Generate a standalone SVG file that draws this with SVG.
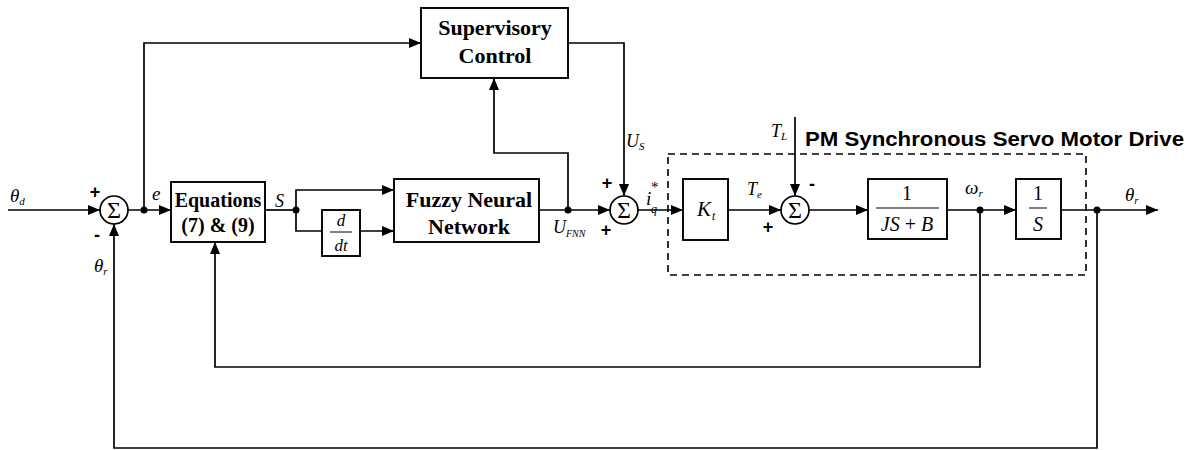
<svg xmlns="http://www.w3.org/2000/svg" width="1193" height="450" viewBox="0 0 1193 450">
<style>
.ln{fill:none;stroke:#000;stroke-width:1.7}
.box{fill:#fff;stroke:#000;stroke-width:1.9}
.sum{fill:#fff;stroke:#000;stroke-width:1.7}
.dot{fill:#000}
.bt{font-family:"Liberation Serif",serif;font-weight:bold;fill:#000;text-anchor:middle}
.it{font-family:"Liberation Serif",serif;font-style:italic;fill:#000}
.rm{font-family:"Liberation Serif",serif;fill:#000}
.sg{font-family:"Liberation Sans",sans-serif;font-weight:bold;font-size:18px;fill:#000;text-anchor:middle}
.sig{font-family:"Liberation Serif",serif;font-size:24px;fill:#000;text-anchor:middle}
</style>
<defs>
<marker id="ah" markerWidth="12" markerHeight="10" refX="12" refY="5" orient="auto" markerUnits="userSpaceOnUse">
<path d="M0,0 L12,5 L0,10 Z" fill="#000"/>
</marker>
</defs>

<g id="connectors">
<path class="ln" d="M8,210 H100" marker-end="url(#ah)"/>
<path class="ln" d="M128,210 H171" marker-end="url(#ah)"/>
<path class="ln" d="M144,210 V43 H421" marker-end="url(#ah)"/>
<path class="ln" d="M265,210 H296"/>
<path class="ln" d="M296,210 V190 H394" marker-end="url(#ah)"/>
<path class="ln" d="M296,210 V231 H322"/>
<path class="ln" d="M360,231 H394" marker-end="url(#ah)"/>
<path class="ln" d="M539,210 H610" marker-end="url(#ah)"/>
<path class="ln" d="M568,210 V153 H494 V78" marker-end="url(#ah)"/>
<path class="ln" d="M568,43 H624 V196" marker-end="url(#ah)"/>
<path class="ln" d="M638,210 H683" marker-end="url(#ah)"/>
<path class="ln" d="M728,210 H781" marker-end="url(#ah)"/>
<path class="ln" d="M795,117 V196" marker-end="url(#ah)"/>
<path class="ln" d="M809,210 H868" marker-end="url(#ah)"/>
<path class="ln" d="M947,210 H1016" marker-end="url(#ah)"/>
<path class="ln" d="M1061,210 H1158" marker-end="url(#ah)"/>
<path class="ln" d="M980,210 V367 H215 V242" marker-end="url(#ah)"/>
<path class="ln" d="M1097,210 V448 H114 V224" marker-end="url(#ah)"/>
<circle class="dot" cx="144" cy="210" r="3.5"/>
<circle class="dot" cx="296" cy="210" r="3.5"/>
<circle class="dot" cx="568" cy="210" r="3.5"/>
<circle class="dot" cx="980" cy="210" r="3.5"/>
<circle class="dot" cx="1097" cy="210" r="3.5"/>
</g>

<g id="drive-boundary">
<rect x="668" y="154" width="418" height="121" fill="none" stroke="#000" stroke-width="1.6" stroke-dasharray="7,5"/>
<text x="805" y="146" font-family="Liberation Sans, sans-serif" font-weight="bold" font-size="20" textLength="379" lengthAdjust="spacingAndGlyphs">PM Synchronous Servo Motor Drive</text>
</g>

<g id="sum1">
<circle class="sum" cx="114" cy="210" r="14"/>
<text class="sig" x="114" y="218">Σ</text>
<text class="sg" x="95" y="198">+</text>
<text class="sg" x="97" y="241">-</text>
</g>

<g id="equations">
<rect class="box" x="171" y="182" width="94" height="60"/>
<text class="bt" x="218" y="207" font-size="20">Equations</text>
<text class="bt" x="218" y="232" font-size="20">(7) &amp; (9)</text>
</g>

<g id="ddt">
<rect class="box" x="322" y="210" width="38" height="46"/>
<text class="it" x="341" y="226" font-size="17" text-anchor="middle">d</text>
<line x1="330" y1="232" x2="352" y2="232" stroke="#000" stroke-width="1"/>
<text class="it" x="341" y="251" font-size="17" text-anchor="middle">dt</text>
</g>

<g id="fnn">
<rect class="box" x="394" y="179" width="145" height="63"/>
<text class="bt" x="469" y="207" font-size="22">Fuzzy Neural</text>
<text class="bt" x="469" y="234" font-size="22">Network</text>
</g>

<g id="supervisory">
<rect class="box" x="421" y="8" width="147" height="70"/>
<text class="bt" x="495" y="35" font-size="22">Supervisory</text>
<text class="bt" x="495" y="63" font-size="22">Control</text>
</g>

<g id="sum2">
<circle class="sum" cx="624" cy="210" r="14"/>
<text class="sig" x="624" y="218">Σ</text>
<text class="sg" x="607" y="189">+</text>
<text class="sg" x="606" y="236">+</text>
</g>

<g id="kt">
<rect class="box" x="683" y="179" width="45" height="61"/>
<text class="it" x="697" y="216" font-size="21">K</text>
<text class="it" x="712" y="220" font-size="12">t</text>
</g>

<g id="sum3">
<circle class="sum" cx="795" cy="210" r="14"/>
<text class="sig" x="795" y="218">Σ</text>
<text class="sg" x="812" y="190">-</text>
<text class="sg" x="768" y="233">+</text>
</g>

<g id="plant">
<rect class="box" x="868" y="179" width="79" height="60"/>
<text class="rm" x="907" y="200" font-size="20" text-anchor="middle">1</text>
<line x1="876" y1="208" x2="939" y2="208" stroke="#000" stroke-width="1"/>
<text class="it" x="907" y="231" font-size="20" text-anchor="middle">JS <tspan font-style="normal">+</tspan> B</text>
</g>

<g id="integrator">
<rect class="box" x="1016" y="179" width="45" height="60"/>
<text class="rm" x="1038" y="200" font-size="20" text-anchor="middle">1</text>
<line x1="1029" y1="208" x2="1047" y2="208" stroke="#000" stroke-width="1"/>
<text class="it" x="1038" y="231" font-size="20" text-anchor="middle">S</text>
</g>

<g id="labels">
<text class="it" x="10" y="202" font-size="19">θ<tspan font-size="11" dy="3">d</tspan></text>
<text class="it" x="94" y="272" font-size="19">θ<tspan font-size="11" dy="3">r</tspan></text>
<text class="it" x="152" y="200" font-size="19">e</text>
<text class="it" x="275" y="207" font-size="18">S</text>
<text class="it" x="553" y="233" font-size="18">U<tspan font-size="10" dy="4">FNN</tspan></text>
<text class="it" x="626" y="147" font-size="18">U<tspan font-size="11" dy="3">S</tspan></text>
<text class="it" x="646" y="205" font-size="19">i</text>
<text class="rm" x="651" y="192" font-size="15">*</text>
<text class="it" x="651" y="213" font-size="12">q</text>
<text class="it" x="771" y="137" font-size="18">T<tspan font-size="11" dy="3">L</tspan></text>
<text class="it" x="747" y="195" font-size="18">T<tspan font-size="11" dy="3">e</tspan></text>
<text class="it" x="965" y="194" font-size="19">ω<tspan font-size="11" dy="3">r</tspan></text>
<text class="it" x="1125" y="201" font-size="19">θ<tspan font-size="11" dy="3">r</tspan></text>
</g>
</svg>
